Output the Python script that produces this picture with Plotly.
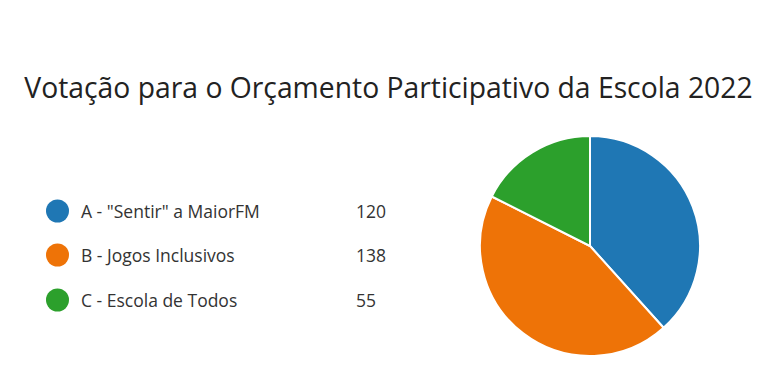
import plotly.graph_objects as go

labels = ['A - "Sentir" a MaiorFM', 'B - Jogos Inclusivos', 'C - Escola de Todos']
values = [120, 138, 55]
colors = ["#1f77b4", "#ee7307", "#2ca02c"]
title_text = "Votação para o Orçamento Participativo da Escola 2022"

W, H = 784, 392
OFF = 8  # page body margin
FONT = "Open Sans, Noto Sans, sans-serif"


def px(x):
    return (x - OFF) / W


def py(y):
    return 1 - (y - OFF) / H


fig = go.Figure()
fig.add_trace(go.Pie(
    labels=labels, values=values, sort=False, direction="clockwise", rotation=0,
    marker=dict(colors=colors, line=dict(color="white", width=2)),
    textinfo="none", hoverinfo="label+value", showlegend=False,
    domain=dict(x=[px(480), px(700)], y=[py(356), py(136)]),
))

shapes = []
annotations = []
row_y = [211, 255, 300]
for i, (lab, val, col) in enumerate(zip(labels, values, colors)):
    y = row_y[i]
    shapes.append(dict(type="circle", xref="paper", yref="paper",
                       x0=px(46), x1=px(69), y0=py(y + 11.5), y1=py(y - 11.5),
                       fillcolor=col, line=dict(width=0)))
    annotations.append(dict(text=lab, xref="paper", yref="paper", x=px(79), y=py(y),
                            xanchor="left", yanchor="middle", showarrow=False,
                            font=dict(family=FONT, size=17.5, color="#333333")))
    annotations.append(dict(text=str(val), xref="paper", yref="paper", x=px(354), y=py(y),
                            xanchor="left", yanchor="middle", showarrow=False,
                            font=dict(family=FONT, size=17.5, color="#333333")))

fig.update_layout(
    width=W, height=H,
    margin=dict(l=0, r=0, t=0, b=0),
    paper_bgcolor="white", plot_bgcolor="white",
    title=dict(text=title_text, x=px(388.5), xanchor="center", y=py(88), yanchor="middle",
               font=dict(family=FONT, size=28.3, color="#222222")),
    shapes=shapes, annotations=annotations,
)

fig.write_html("out.html")
